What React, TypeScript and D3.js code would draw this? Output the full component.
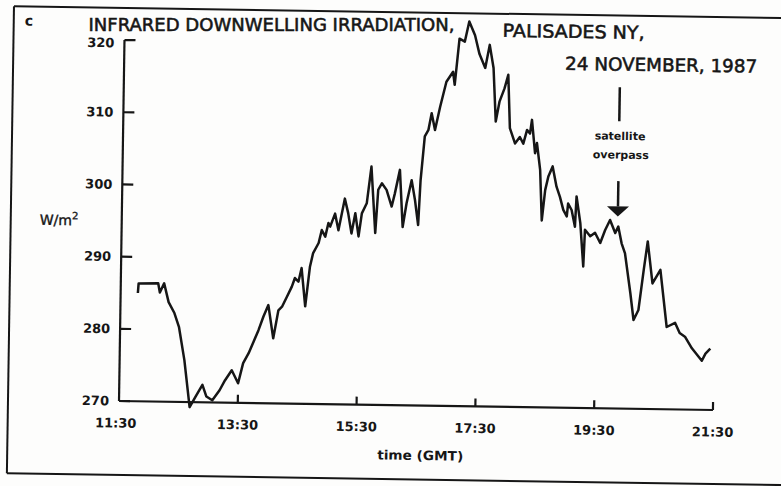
import * as d3 from "d3";
import React from "react";

// time in decimal hours (GMT), irradiance in W/m2
const hours = [
  11.79, 11.8, 12.13, 12.16, 12.23, 12.31, 12.41, 12.49, 12.59, 12.69,
  12.79, 12.9, 12.97, 13.07, 13.19,
  13.28, 13.39, 13.5, 13.58, 13.67, 13.75, 13.83, 13.91, 13.99, 14.08,
  14.16, 14.22, 14.3, 14.38, 14.43, 14.49, 14.54, 14.61, 14.68, 14.73,
  14.82, 14.87, 14.93, 14.98,
  15.01, 15.09, 15.15, 15.25, 15.31, 15.37, 15.43, 15.49, 15.54, 15.62,
  15.69, 15.77, 15.81, 15.87, 15.95, 16.04, 16.09, 16.17, 16.23, 16.29,
  16.37, 16.43, 16.49, 16.52, 16.58, 16.64, 16.69, 16.75, 16.83,
  16.93, 17.04, 17.07, 17.14, 17.23, 17.3, 17.4, 17.48, 17.58, 17.65,
  17.72, 17.77, 17.83, 17.91, 17.97, 18.01,
  18.1, 18.18, 18.24, 18.3, 18.35, 18.38, 18.44, 18.47, 18.53, 18.57,
  18.62, 18.67, 18.74, 18.81, 18.87, 18.93, 18.99, 19.01, 19.07, 19.13,
  19.15, 19.22, 19.28, 19.3, 19.39, 19.47, 19.56, 19.64, 19.72, 19.81,
  19.86, 19.92, 19.98, 20.08,
  20.14, 20.22, 20.3, 20.36, 20.45, 20.58, 20.7, 20.84, 20.92, 21.01,
  21.13, 21.3, 21.36, 21.44,
];
const irradiance = [
  285.0, 286.3, 286.4, 285.1, 286.4, 283.8, 282.3, 280.4, 275.8, 269.3,
  270.8, 272.4, 270.8, 270.3, 271.7,
  273.1, 274.5, 272.7, 275.5, 276.9, 278.5, 280.1, 282.0, 283.6, 279.0,
  282.9, 283.4, 284.8, 286.2, 287.4, 286.9, 288.8, 283.5, 289.0, 290.9,
  292.3, 294.1, 293.2, 295.1,
  294.6, 296.4, 294.1, 298.5, 296.5, 293.7, 296.5, 293.3, 296.5, 297.9,
  303.0, 293.8, 299.8, 300.7, 299.8, 297.5, 299.3, 302.6, 294.7, 298.0,
  301.2, 298.5, 295.0, 301.2, 307.3, 308.2, 310.5, 308.2, 311.4,
  314.9, 316.3, 314.5, 320.9, 320.5, 323.3, 321.4, 318.8, 316.9, 320.1,
  316.9, 309.5, 312.3, 314.1, 316.0, 308.6,
  306.5, 307.4, 306.5, 308.4, 307.9, 309.8, 305.2, 306.6, 302.9, 295.9,
  300.1, 302.0, 303.4, 300.6, 299.2, 297.4, 296.5, 298.3, 297.4, 295.1,
  299.3, 295.6, 289.6, 294.7, 293.8, 294.3, 292.9, 294.7, 296.1, 294.3,
  295.2, 292.9, 291.5, 286.0,
  282.3, 283.7, 289.3, 293.2, 287.4, 289.3, 281.4, 282.0, 280.6, 280.1,
  278.5, 276.8, 277.8, 278.5,
];
const xTickHours = [11.5, 13.5, 15.5, 17.5, 19.5, 21.5];
const xTickLabels = ["11:30", "13:30", "15:30", "17:30", "19:30", "21:30"];
const yTickValues = [270, 280, 290, 300, 310, 320];
const overpassHour = 19.85;

const W = 781;
const H = 486;
const origin = { x: 119, y: 401 };
const tilt = 0.87; // the scan sits slightly rotated

export default function App() {
  const x = d3.scaleLinear().domain([11.5, 21.5]).range([origin.x, 713]);
  const y = d3.scaleLinear().domain([270, 320]).range([origin.y, 40]);

  const points = hours.map((h, i) => [x(h), y(irradiance[i])] as [number, number]);
  const line = d3.line().curve(d3.curveLinear);

  const font = "'DejaVu Sans', 'Liberation Sans', sans-serif";
  const ink = "#161616";
  const ax = x(overpassHour);
  // medium-weight lettering for the headline
  const heading = {
    fontSize: 18,
    fill: ink,
    stroke: ink,
    strokeWidth: 0.55,
    lengthAdjust: "spacingAndGlyphs",
  };

  return (
    <svg
      width={W}
      height={H}
      style={{ position: "absolute", left: 0, top: 0, background: "#fdfdfc" }}
      fontFamily={font}
    >
      {/* long headline kept level so it clears the 320 label */}
      <text x={88.5} y={30.5} textLength={366} {...heading} fontSize={17}>
        INFRARED DOWNWELLING IRRADIATION,
      </text>

      <g transform={`rotate(${tilt}, ${origin.x}, ${origin.y})`}>
        {/* frame, open on the right */}
        <g stroke={ink} strokeWidth="2" fill="none">
          <line x1={8} y1={8} x2={820} y2={8} />
          <line x1={8} y1={8} x2={8} y2={475} />
          <line x1={8} y1={475} x2={820} y2={475} />
        </g>

        <text x={19} y={27} fontSize="14" fontWeight="bold" fill={ink}>
          c
        </text>
        <text x={497} y={31} textLength={142} {...heading}>
          PALISADES NY,
        </text>
        <text x={560} y={63} textLength={192} {...heading}>
          24 NOVEMBER, 1987
        </text>

        {/* axes */}
        <g stroke={ink} strokeWidth="2.2" fill="none">
          <line x1={origin.x} y1={y(320)} x2={origin.x} y2={origin.y} />
          <line x1={origin.x} y1={origin.y} x2={x(21.5)} y2={origin.y} />
          {yTickValues.map((v) => (
            <line key={v} x1={origin.x} y1={y(v)} x2={origin.x + 11} y2={y(v)} />
          ))}
          {xTickHours.slice(1).map((h) => (
            <line key={h} x1={x(h)} y1={origin.y} x2={x(h)} y2={origin.y - 8} />
          ))}
        </g>
        {yTickValues.map((v) => (
          <text
            key={v}
            x={109}
            y={y(v) + (v === 320 ? 3 : 0)}
            textAnchor="end"
            dominantBaseline="central"
            fontSize="13"
            fontWeight="bold"
            fill={ink}
          >
            {v}
          </text>
        ))}
        {xTickHours.map((h, i) => (
          <text
            key={h}
            x={x(h) - (i === 0 ? 3 : 0)}
            y={origin.y + 22}
            textAnchor="middle"
            dominantBaseline="central"
            fontSize="13"
            fontWeight="bold"
            fill={ink}
          >
            {xTickLabels[i]}
          </text>
        ))}
        <text
          x={421}
          y={451}
          textAnchor="middle"
          dominantBaseline="central"
          fontSize="13"
          fontWeight="bold"
          fill={ink}
          textLength={86}
          lengthAdjust="spacingAndGlyphs"
        >
          time (GMT)
        </text>
        <text x={37} y={226} fontSize="14" fill={ink} stroke={ink} strokeWidth={0.4}>
          W/m
          <tspan dy={-6} fontSize="10">
            2
          </tspan>
        </text>

        {/* satellite overpass marker */}
        <g stroke={ink} strokeWidth="2.5">
          <line x1={ax} y1={y(314.5)} x2={ax} y2={y(309.8)} />
          <line x1={ax} y1={y(301.5)} x2={ax} y2={y(298)} />
        </g>
        <path
          d={`M${ax - 11},${y(298)} L${ax + 11},${y(298)} L${ax},${y(296.6)} Z`}
          fill={ink}
        />
        <text
          x={ax + 1}
          y={y(307.7)}
          textAnchor="middle"
          dominantBaseline="central"
          fontSize="11"
          fontWeight="bold"
          fill={ink}
        >
          satellite
        </text>
        <text
          x={ax + 2}
          y={y(305.1)}
          textAnchor="middle"
          dominantBaseline="central"
          fontSize="11"
          fontWeight="bold"
          fill={ink}
        >
          overpass
        </text>

        <path
          d={line(points) ?? ""}
          fill="none"
          stroke={ink}
          strokeWidth="2.5"
          strokeLinejoin="round"
        />
      </g>
    </svg>
  );
}
